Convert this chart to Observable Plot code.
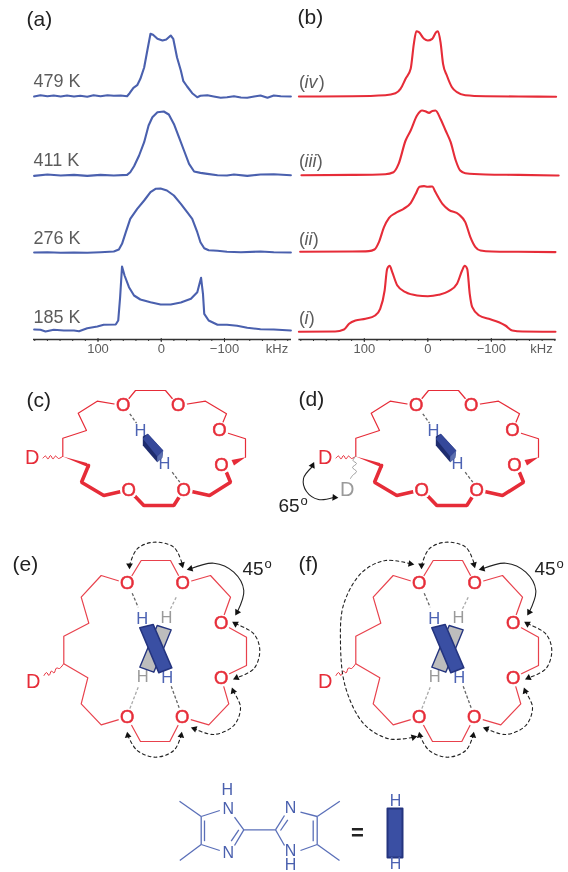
<!DOCTYPE html>
<html><head><meta charset="utf-8">
<script src="https://cdn.jsdelivr.net/npm/d3@7"></script>
<script src="https://cdn.jsdelivr.net/npm/@observablehq/plot@0.6"></script>
<style>html,body{margin:0;padding:0;background:#fff;overflow:hidden}#c{position:relative;width:568px;height:872px;overflow:hidden}
svg{position:absolute;filter:blur(.35px)}</style></head><body><div id="c"></div>
<script>
// ---- spectra (kHz, relative height) ----
const k479=[201,191,180,170,159,149,138,128,117,107,96,85,75,64,54,50,44,38,33,27,22,17,13,6,-2,-8,-15,-19,-25,-31,-35,-41,-49,-57,-62,-73,-83,-94,-104,-115,-126,-136,-147,-157,-168,-178,-189,-205];
const h479=[0,1.3,.3,1,0,1,0,.7,-.3,1.3,.3,1.3,.7,1,.3,3.3,8.7,11.3,17.7,29,46,62.7,61.7,57.7,56,57,61,57.7,39,26,15.3,10,3.3,-.7,.7,1.3,0,-1.3,-.7,.3,-1,-1.3,0,1,-1.3,1,.3,0];
const k411=[201,180,159,138,117,96,75,54,49,43,35,27,20,14,6,-4,-12,-20,-28,-36,-44,-52,-62,-73,-89,-104,-115,-136,-157,-178,-205];
const h411=[-.7,.7,-.3,.3,-.7,.3,-.3,.3,3,9,19.7,33,49.7,58,63,63.7,60.7,51.3,38,24.7,11.3,3.7,2.3,1.3,0,-.3,.7,-.7,.7,1,0];
const k276=[201,180,159,138,117,96,75,67,62,56,49,38,27,17,9,1,-9,-20,-31,-41,-49,-57,-62,-68,-75,-89,-104,-126,-157,-178,-205];
const h276=[0,.3,-.3,0,-.3,.3,1,3,8.7,20.3,33.7,43.7,52,60.3,63.7,64,62,57,48.7,40.3,33.7,20.3,10.3,4.3,2.3,1.7,.7,.3,1,.3,0];
const k185=[201,191,183,170,154,138,130,117,101,91,72,68,65,62,58,51,43,33,17,1,-15,-31,-47,-57,-63,-66,-68,-75,-89,-104,-120,-136,-157,-178,-205];
const h185=[1,.7,-1,.7,0,0,-.7,2.3,4,5.7,6,10,33.3,64,55,43.3,35,31,28.3,26,26,28,31.7,38.3,52.7,36.7,16.7,10,5.7,5.7,4.7,2.7,1.3,1,0];
const kIv=[203,119,67,51,43,35,27,22,18,14,6,0,-7,-13,-16,-20,-24,-30,-38,-46,-59,-91,-143,-202];
const hIv=[0,.3,1.3,3.3,7.7,17.7,27.7,52.7,65.3,64.3,57.7,56,57.7,64.3,65.3,54.3,32.7,21,9.3,4.3,1.3,.3,0,-.3];
const kIii=[199,119,67,54,46,35,27,17,9,4,-2,-7,-12,-20,-28,-36,-44,-51,-59,-91,-143,-206];
const hIii=[0,.3,1,3,11.3,34.7,44.7,59.7,64.7,64,62.3,64.3,64.7,56.3,44.7,33,14.7,4.7,2,.7,.3,-.3];
const kIi=[201,119,93,84,77,69,61,51,38,27,19,13,6,0,-7,-12,-23,-33,-49,-59,-67,-75,-83,-101,-143,-201];
const hIi=[0,.3,.7,2.3,9.7,24.7,34,38.7,43,48.7,58,65,65.7,65,65.3,59.7,48,42,37.3,29.7,14.7,4.7,1.3,.3,0,-.3];
const kI=[203,146,132,124,114,98,83,75,68,64,60,56,48,35,17,0,-17,-33,-46,-54,-58,-62,-66,-70,-81,-96,-112,-122,-133,-149,-201];
const hI=[-.3,0,2,7.7,11,12.7,16,22.7,41,62.7,65.7,59.3,46,39.3,36,35.3,36.7,40.3,47.7,61,65.7,62.7,37.7,24.3,16,12.7,9.3,6,1,0,-.3];
const tempLabels=["479 K","411 K","276 K","185 K"];
const simLabels=["iv","iii","ii","i"];
const offsetsA=[243,164.3,87,9];
const offsetsB=[243,164.3,87.7,8];
const majorTicks=[100,0,-100];
const minorTicks=[200,180,160,140,120,100,80,60,40,20,0,-20,-40,-60,-80,-100,-120,-140,-160,-180,-200];

// ---- scheme geometry ----
const oC=[[122.7,405],[177.7,405],[219,430],[221,464.3],[183.3,489.3],[128.3,489.3]];
const thinC=[[62.3,456],[62.3,437.7],[86,430],[77.7,412.7],[96.7,400.7],[122.7,405],[135,390],[165,390],[177.7,405],[205,400.7],[226,413.3],[219,430],[245,438.3],[245,456.7]];
const boldC=[[88,465],[81,481.7],[103.3,495],[128.3,489.3],[143.3,505],[173.3,505],[183.3,489.3],[209,495],[230,481.7],[226,472]];
const wedgesC=[[[62.3,456],[86.5,462.5],[89.5,467.5]],[[245,456.7],[231,459.5],[233.5,465]]];
const wiggleC=[[42.5,457.5],[45,455.5],[47.5,458.5],[50,455],[52.5,458.5],[55,455.5],[58,458],[62,456]];
const wiggleGrey=[[355,456],[352.5,460],[356,463],[352,467],[356,471],[352,475],[350,478]];
const bondsC=[[129.3,413.3,136,422.7],[171.7,471.7,179.3,481.7]];
const hC=[[140,430],[164,463.3]];
const cylBody=[[142.3,436],[147.3,433.3],[162.7,450],[161.7,457.3],[156.7,461.7],[142.3,445]];
const cylTop=[[147.3,433.3],[162.7,450],[156.7,456],[142.3,438.3]];
const cylEnd=[[156.7,456],[162.7,450],[161.7,457.3],[156.7,461.7]];
const arc65=[[311,467],[303,478],[306,491],[318,499],[333,497]];
const heads65=[[312,465,25],[334,497,95]];

const oE=[[126.7,583],[182.3,583],[220.7,622.7],[220.7,677.3],[181.7,716.7],[126.7,716.7]];
const thinE=[[63.3,663.3],[63.3,635.7],[88.3,622.7],[80.7,596.7],[100.7,575],[126.7,583],[140.7,560],[170,560],[182.3,583],[210,575],[230,596.7],[220.7,622.7],[246,636.7],[246,665],[220.7,677.3],[228.3,703.3],[208.3,724.3],[181.7,716.7],[169.3,741],[140,741],[126.7,716.7],[100.7,724.3],[80.7,703.3],[87.3,677.3],[63.3,663.3]];
const wiggleE=[[43.5,675],[46,672],[48.5,675],[51,670.5],[53.5,672.5],[56,667.5],[59,668],[63,663.5]];
const darkBondsE=[[131.7,592.7,137.7,606.7],[170.7,685.7,179,708.3]];
const lightBondsE=[[175.7,596.7,170,608.3],[137.7,686.7,129.3,708.3]];
const blueHE=[[141.7,618.3],[166.7,677.3]];
const greyHE=[[166,617.3],[142.3,676.7]];
const barBlue=[[139.3,627.3],[152.7,624],[171.3,667.3],[158.3,672.3]];
const barGrey=[[156.7,625],[170.7,629.3],[153.3,671.7],[139.3,666.7]];
const dashedArcsE=[
 [[129,565],[136.7,548.3],[153.3,541.7],[173.3,546.7],[181.7,563.3]],
 [[235,623.3],[253.3,633.3],[259.3,650],[253.3,668.3],[236,677.3]],
 [[232.7,690.7],[240,706.7],[233.3,725],[213.3,734],[194,728.3]],
 [[127.3,735],[136.7,750],[155,756.7],[173.3,750],[180.7,735]]];
const solidArcE=[[190,568.3],[213.3,562.7],[233.3,571.7],[243.3,590],[236.7,611.7]];
const headsE=[[129,565,180],[181.5,564,165],[235,623.3,300],[236,677.3,245],[232.7,690.7,340],[194,728.3,290],[127.3,735,350],[180.7,735,10],[190,568.3,255],[236.7,611.7,210]];
const bigArcF=[[410,563.3],[385,560],[361.7,571.7],[343.3,603.3],[340,643.3],[345,686.7],[363.3,723.3],[388.3,738.3],[413.3,736.7]];
const headsF=[[410,563.3,100],[413,736.7,75]];

const ligandBonds=[[179,800.7,200.7,816],[200.7,816,219.3,810],[200.7,816,200.7,844],[204,820,204,840.7],[200.7,844,179.3,860],[200.7,844,219.3,850],[234,816.7,243.3,829.3],[243.3,829.3,234,845],[238.3,829.3,230.7,840.7],[243.3,829.3,275,829.3],[275,829.3,284,815],[280,830,287.3,819.3],[275,829.3,284,845],[300,811.7,316.7,816],[316.7,816,316.7,844],[312.7,820,312.7,840.7],[316.7,816,339.3,800.7],[316.7,844,300,850],[316.7,844,339,860]];
const ligandAtoms=[["N",227.7,808.3],["H",226.7,789],["N",227.7,852.7],["N",290,807.3],["N",290,850],["H",290,864.5]];
const keyBar=[[387,808],[402,808],[402,857],[387,857]];
const keyH=[[395,800],[395,863.5]];

const panelTitles=[["(c)",26,400],["(d)",298,399],["(e)",12,564],["(f)",298,564]];

const RED="#e62c38",BLUE="#4a60ae",NAVY="#24347f",BAR="#3a4fa3",INK="#222",GREY="#9a9a9a",SOFT="#5c5c5c";
const FONT="Liberation Sans, Arial, sans-serif";
const c=document.getElementById("c");
const shift=(a,dx,dy=0)=>a.map(p=>[p[0]+dx,p[1]+dy]);
const shiftL=(a,dx,dy=0)=>a.map(s=>[s[0]+dx,s[1]+dy,s[2]+dx,s[3]+dy]);
const px={x:d=>d[0],y:d=>d[1]};

function spectrum({xs,ys,offs,color,curve,width,left,mL,mR,domain,title,titleDy,labels}){
  const rows=xs.flatMap((k,i)=>k.map((v,j)=>({k:v,h:ys[i][j]+offs[i],s:i})));
  const marks=[
    Plot.ruleY([0],{stroke:"#333",strokeWidth:1.5}),
    Plot.ruleX(minorTicks,{x:d=>d,y1:-2,y2:0,stroke:"#333",strokeWidth:1}),
    Plot.ruleX(majorTicks,{x:d=>d,y1:-3,y2:1,stroke:"#333",strokeWidth:1}),
    Plot.axisX({ticks:majorTicks,tickSize:0,tickPadding:4,fontSize:13,color:SOFT,anchor:"bottom",tickFormat:d=>d===0?"0":(d<0?"\u2212"+(-d):""+d)}),
    Plot.line(rows,{x:"k",y:"h",z:"s",stroke:color,strokeWidth:2.1,curve,strokeLinejoin:"round"}),
    Plot.text(["kHz"],{x:()=>domain[1]+23,y:()=>-9.5,text:d=>d,fontSize:13,fill:SOFT,textAnchor:"middle"}),
    Plot.text([title],{frameAnchor:"top-left",dx:title==="(a)"?-7:-8+6.6,dy:titleDy,text:d=>d,fontSize:21,fill:INK,lineAnchor:"top",textAnchor:"start"}),
    ...labels
  ];
  return Plot.plot({width,height:360,marginLeft:mL,marginRight:mR,marginTop:0,marginBottom:21,
    x:{domain,label:null,axis:null},y:{domain:[0,339],axis:null,label:null},
    style:{fontFamily:FONT,position:"absolute",left:left+"px",top:"0px",background:"transparent",overflow:"visible"},
    marks});
}
const tempMarks=[Plot.text(tempLabels,{x:()=>202,y:(d,i)=>[258,179,101,22][i],text:d=>d,fontSize:18,fill:SOFT,textAnchor:"start"})];
const simMarks=[
  Plot.text(simLabels,{x:()=>203,y:(d,i)=>[257,178,100,21][i],text:()=>"(",fontSize:18,fill:SOFT,textAnchor:"start"}),
  Plot.text(simLabels,{x:()=>194,y:(d,i)=>[257,178,100,21][i],text:d=>d,fontSize:18,fill:SOFT,fontStyle:"italic",textAnchor:"start"}),
  Plot.text(simLabels,{x:(d)=>194-({iv:14,iii:12,ii:8,i:4}[d])*1.58,y:(d,i)=>[257,178,100,21][i],text:()=>")",fontSize:18,fill:SOFT,textAnchor:"start"})
];
c.appendChild(spectrum({xs:[k479,k411,k276,k185],ys:[h479,h411,h276,h185],offs:offsetsA,color:BLUE,curve:"linear",width:292,left:0,mL:33,mR:1,domain:[202,-206],title:"(a)",titleDy:11,labels:tempMarks}));
c.appendChild(spectrum({xs:[kIv,kIii,kIi,kI],ys:[hIv,hIii,hIi,hI],offs:offsetsB,color:RED,curve:"monotone-x",width:276,left:292,mL:6.4,mR:12.4,domain:[203,-202],title:"(b)",titleDy:9,labels:simMarks}));

function oxygens(pts){return [
  Plot.dot(pts,{...px,r:9,fill:"white"}),
  Plot.text(pts,{...px,text:()=>"O",fontSize:18.5,fill:RED,stroke:RED,strokeWidth:.5})];}
const poly=(pts,fill,extra={})=>Plot.line([...pts,pts[0]],{...px,fill,stroke:extra.stroke||"none",strokeWidth:extra.w||0,strokeLinejoin:"round"});
const wig=(pts,color)=>Plot.line(pts,{...px,stroke:color,strokeWidth:1,curve:"catmull-rom"});
const labelD=(x,y,fill)=>Plot.text([[x,y]],{...px,text:()=>"D",fontSize:20,fill});
const Hs=(pts,fill)=>Plot.text(pts,{...px,text:()=>"H",fontSize:16.5,fill});
const dashL=(segs,stroke)=>Plot.link(segs,{x1:d=>d[0],y1:d=>d[1],x2:d=>d[2],y2:d=>d[3],stroke,strokeWidth:1.3,strokeDasharray:"3,2"});
const heads=(h)=>Plot.dot(h,{x:d=>d[0],y:d=>d[1],rotate:d=>d[2],symbol:"triangle2",r:3.2,fill:"#111"});
const degree=(x,y,n)=>[Plot.text([[x,y]],{...px,text:()=>n,fontSize:19,fill:"#222",textAnchor:"start"}),Plot.text([[x+22,y-5]],{...px,text:()=>"o",fontSize:13,fill:"#222",textAnchor:"start"})];

function panelCD(dx){return [
  Plot.line(shift(thinC,dx),{...px,stroke:RED,strokeWidth:1.2}),
  Plot.line(shift(boldC,dx),{...px,stroke:RED,strokeWidth:3.6,strokeLinejoin:"miter"}),
  ...wedgesC.map(w=>poly(shift(w,dx),RED)),
  ...oxygens(shift(oC,dx)),
  wig(shift(wiggleC,dx),RED),
  labelD(31.7+dx,457,RED),
  dashL(shiftL(bondsC,dx),"#666"),
  Hs(shift(hC,dx),"#4d63b3"),
  poly(shift(cylBody,dx),"#1e2c6e"),
  poly(shift(cylTop,dx),"#35489a"),
  poly(shift(cylEnd,dx),"#5b6fb0"),
];}
function panelEF(dx){return [
  Plot.line(shift(thinE,dx),{...px,stroke:RED,strokeWidth:1.2,strokeOpacity:.9}),
  ...oxygens(shift(oE,dx)),
  wig(shift(wiggleE,dx),RED),
  labelD(32.7+dx,680.7,RED),
  dashL(shiftL(darkBondsE,dx),"#666"),
  dashL(shiftL(lightBondsE,dx),"#aaa"),
  Hs(shift(blueHE,dx),"#4d63b3"),
  Hs(shift(greyHE,dx),GREY),
  poly(shift(barGrey,dx),"#bdbdbd",{stroke:NAVY,w:1.4}),
  poly(shift(barBlue,dx),BAR,{stroke:NAVY,w:1.6}),
  ...dashedArcsE.map(a=>Plot.line(shift(a,dx),{...px,stroke:"#222",strokeWidth:1.1,strokeDasharray:"3,3",curve:"catmull-rom"})),
  Plot.line(shift(solidArcE,dx),{...px,stroke:"#222",strokeWidth:1.1,curve:"catmull-rom"}),
  heads(headsE.map(h=>[h[0]+dx,h[1],h[2]])),
  ...degree(242+dx,568,"45"),
];}

c.appendChild(Plot.plot({width:568,height:512,margin:0,
  x:{domain:[0,568],range:[0,568],axis:null},y:{domain:[360,872],range:[0,512],axis:null},
  style:{fontFamily:FONT,position:"absolute",left:"0px",top:"360px",background:"transparent",overflow:"visible"},
  marks:[
    ...panelCD(0),...panelCD(293),
    wig(wiggleGrey,GREY),
    labelD(346.7,489,GREY),
    Plot.line(arc65,{...px,stroke:"#222",strokeWidth:1.1,curve:"catmull-rom"}),
    heads(heads65),
    Plot.text([[278,505]],{...px,text:()=>"65",fontSize:19,fill:"#222",textAnchor:"start"}),
    Plot.text([[300,500]],{...px,text:()=>"o",fontSize:13,fill:"#222",textAnchor:"start"}),
    ...panelEF(0),...panelEF(292),
    Plot.line(bigArcF,{...px,stroke:"#222",strokeWidth:1.1,strokeDasharray:"3,3",curve:"catmull-rom"}),
    heads(headsF),
    Plot.text(panelTitles,{x:d=>d[1],y:d=>d[2],text:d=>d[0],fontSize:21,fill:INK,textAnchor:"start"}),
    Plot.link(ligandBonds,{x1:d=>d[0],y1:d=>d[1],x2:d=>d[2],y2:d=>d[3],stroke:"#5a6fb8",strokeWidth:1.3}),
    Plot.text(ligandAtoms,{x:d=>d[1],y:d=>d[2],text:d=>d[0],fontSize:16,fill:BLUE}),
    Plot.text([[357,832]],{...px,text:()=>"=",fontSize:22,fontWeight:"bold",fill:"#222"}),
    poly(keyBar,BAR,{stroke:NAVY,w:2}),
    Plot.text(keyH,{...px,text:()=>"H",fontSize:16,fill:"#4d63b3"}),
  ]}));
</script></body></html>
